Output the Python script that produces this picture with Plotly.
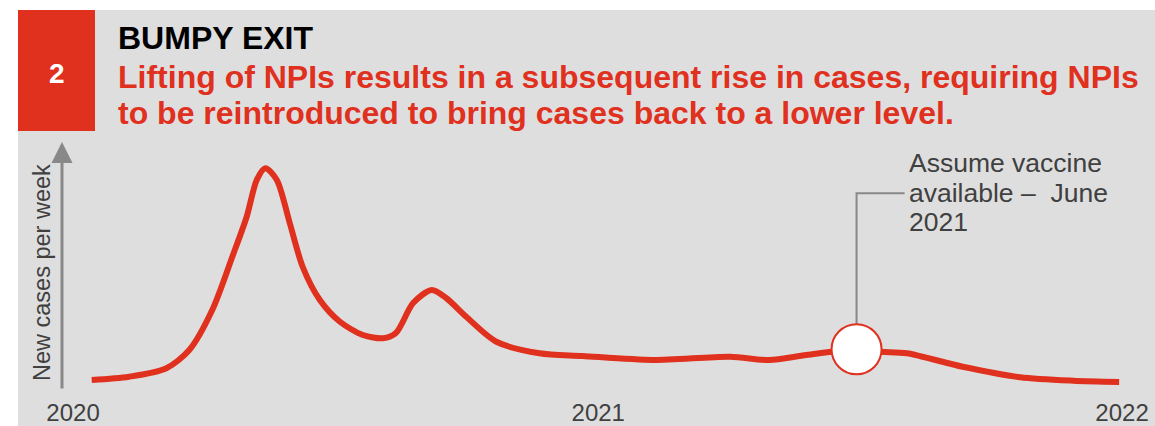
import plotly.graph_objects as go

# Weekly new cases (index, schematic) for the "bumpy exit" scenario
dates = [
    "2020-01-14", "2020-02-09", "2020-03-06", "2020-03-22", "2020-04-07",
    "2020-04-21", "2020-05-01", "2020-05-08", "2020-05-14", "2020-05-22",
    "2020-05-31", "2020-06-09", "2020-06-21", "2020-07-05", "2020-07-21",
    "2020-08-04", "2020-08-13", "2020-08-25", "2020-09-07", "2020-09-17",
    "2020-10-01", "2020-10-22", "2020-11-21", "2020-12-21", "2021-02-08",
    "2021-04-03", "2021-04-30", "2021-05-26", "2021-06-30", "2021-07-17",
    "2021-08-04", "2021-09-12", "2021-10-22", "2021-11-28", "2021-12-30",
]
cases = [
    4.0, 5.3, 8.7, 16.0, 32.0,
    53.3, 69.3, 84.0, 88.7, 84.0,
    66.8, 49.3, 36.0, 27.3, 22.0,
    20.7, 22.8, 34.8, 40.0, 36.8,
    29.3, 19.3, 14.7, 13.6, 12.0,
    13.3, 12.0, 14.0, 16.3, 15.3,
    14.7, 9.3, 5.1, 3.7, 3.2,
]

# Vaccine milestone
vaccine_date = "2021-06-30"
vaccine_level = 16.3
vaccine_lines = ["Assume vaccine", "available \u2013  June", "2021"]

# Year ticks
year_ticks = ["2020-01-01", "2021-01-01", "2022-01-01"]
year_labels = ["2020", "2021", "2022"]

badge = "2"
title = "BUMPY EXIT"
subtitle_lines = [
    "Lifting of NPIs results in a subsequent rise in cases, requiring NPIs",
    "to be reintroduced to bring cases back to a lower level.",
]
y_title = "New cases per week"

RED = "#E0301E"
GREY_BG = "#DEDEDE"
TEXT = "#404040"
AXIS = "#888888"
FONT = "Arial, Liberation Sans, sans-serif"

W, H = 1155, 426
ML, MR, MT, MB = 30, 5, 140, 36
PW, PH = W - ML - MR, H - MT - MB


def px(x):
    return (x - ML) / PW


def py(y):
    return (H - MB - y) / PH


fig = go.Figure()

fig.add_trace(go.Scatter(
    x=dates, y=cases, mode="lines",
    line=dict(color=RED, width=6, shape="spline", smoothing=0.8),
    hoverinfo="skip", showlegend=False,
))

fig.add_trace(go.Scatter(
    x=[vaccine_date], y=[vaccine_level], mode="markers",
    marker=dict(size=50, color="white", line=dict(color=RED, width=2)),
    hoverinfo="skip", showlegend=False, cliponaxis=False,
))

shapes = [
    # white border strips around the grey panel (paper itself is grey)
    dict(type="rect", xref="paper", yref="paper",
         x0=px(-5), x1=px(W + 5), y0=py(10), y1=py(-5),
         fillcolor="white", line=dict(width=0), layer="below"),
    dict(type="rect", xref="paper", yref="paper",
         x0=px(-5), x1=px(18), y0=py(H + 5), y1=py(-5),
         fillcolor="white", line=dict(width=0), layer="below"),
    # red badge
    dict(type="rect", xref="paper", yref="paper",
         x0=px(18), x1=px(95), y0=py(131), y1=py(10),
         fillcolor=RED, line=dict(width=0), layer="below"),
    # leader from the vaccine marker to its note
    dict(type="path", xref="x", yref="y",
         xsizemode="pixel", ysizemode="pixel",
         xanchor=vaccine_date, yanchor=vaccine_level,
         path="M0,25 L0,156 L48,156",
         line=dict(color=AXIS, width=2), layer="below"),
]

annotations = [
    # y axis arrow
    dict(xref="paper", yref="paper", x=px(62), y=py(142),
         ax=0, ay=248, showarrow=True, text="",
         arrowhead=2, arrowsize=1.4, arrowwidth=3, arrowcolor=AXIS),
    dict(xref="paper", yref="paper", x=px(42), y=py(273),
         xanchor="center", yanchor="middle",
         text=y_title, textangle=-90, showarrow=False,
         font=dict(family=FONT, size=23.5, color=TEXT)),
    dict(xref="paper", yref="paper", x=px(57), y=py(73),
         xanchor="center", yanchor="middle",
         text="<b>%s</b>" % badge, showarrow=False,
         font=dict(family=FONT, size=28, color="white")),
    dict(xref="paper", yref="paper", x=px(116), y=py(38),
         xanchor="left", yanchor="middle",
         text="<b>%s</b>" % title, showarrow=False,
         font=dict(family=FONT, size=32, color="black")),
]
for i, line in enumerate(subtitle_lines):
    annotations.append(dict(
        xref="paper", yref="paper", x=px(116), y=py(77 + 36 * i),
        xanchor="left", yanchor="middle",
        text="<b>%s</b>" % line, showarrow=False,
        font=dict(family=FONT, size=32, color=RED)))
for i, line in enumerate(vaccine_lines):
    annotations.append(dict(
        xref="x", yref="y", x=vaccine_date, y=vaccine_level,
        xanchor="left", yanchor="middle",
        xshift=50, yshift=186 - 29.5 * i,
        text=line, showarrow=False,
        font=dict(family=FONT, size=26.5, color=TEXT)))

fig.update_layout(
    width=W, height=H, autosize=False,
    margin=dict(l=ML, r=MR, t=MT, b=MB, pad=0, autoexpand=False),
    paper_bgcolor=GREY_BG, plot_bgcolor="rgba(0,0,0,0)",
    shapes=shapes, annotations=annotations,
    showlegend=False, hovermode=False,
    xaxis=dict(
        type="date", range=["2019-12-02", "2022-01-20 12:00"],
        tickvals=year_ticks, ticktext=year_labels,
        showgrid=False, zeroline=False, showline=False, ticks="",
        tickfont=dict(family=FONT, size=24, color=TEXT),
        ticklabelstandoff=6, automargin=False, fixedrange=True,
    ),
    yaxis=dict(
        range=[0, 100], visible=False, automargin=False, fixedrange=True,
    ),
)

fig.write_html("out.html", config={"displayModeBar": False})
